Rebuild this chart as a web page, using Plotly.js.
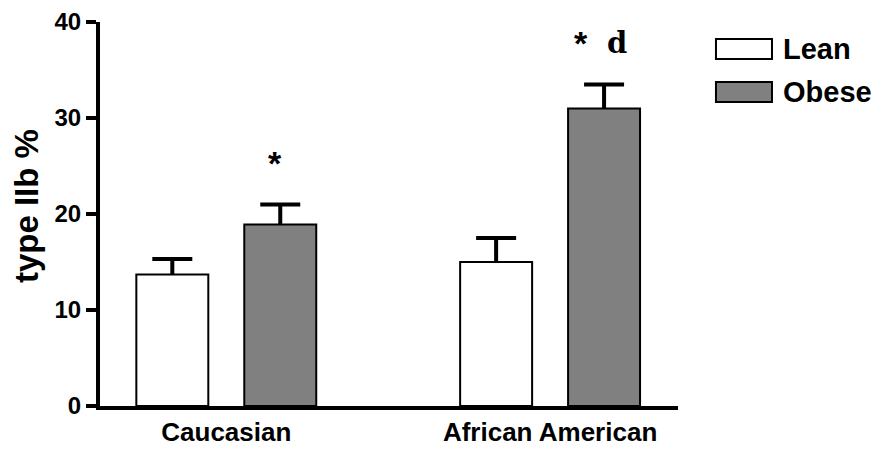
<!DOCTYPE html>
<html>
<head>
<meta charset="utf-8">
<script src="https://cdn.plot.ly/plotly-3.0.1.min.js"></script>
<style>html,body{margin:0;padding:0;background:#fff;}#chart{width:881px;height:451px;}</style>
</head>
<body>
<div id="chart"></div>
<script>
// Data
const categories = ["Caucasian", "African American"];
const leanValues = [13.7, 15.0];
const leanErrors = [1.6, 2.5];
const obeseValues = [18.9, 31.0];
const obeseErrors = [2.1, 2.5];
const seriesNames = ["Lean", "Obese"];
const yTicks = [0, 10, 20, 30, 40];
const sigMarks = ["*", "*"];
const extraMark = ["", "d"];

const FONT = "Liberation Sans, Arial, sans-serif";
const fills = ["#ffffff", "#808080"];
const valuesBySeries = [leanValues, obeseValues];
const errorsBySeries = [leanErrors, obeseErrors];

const traces = [];
// Error-bar carriers drawn underneath (transparent bars); their stems run down to 0
// so the lower cap is hidden under the x axis line and the stem inside the bar is covered.
seriesNames.forEach((n, s) => {
  traces.push({
    type: "bar", name: n + " err", x: categories, y: valuesBySeries[s],
    offsetgroup: n, marker: {color: "rgba(0,0,0,0)", line: {width: 0}},
    error_y: {type: "data", symmetric: false, array: errorsBySeries[s],
              arrayminus: valuesBySeries[s], color: "#000", thickness: 4, width: 20},
    showlegend: false, hoverinfo: "none"
  });
});
// Visible bars on top
seriesNames.forEach((n, s) => {
  traces.push({
    type: "bar", name: n, x: categories, y: valuesBySeries[s],
    offsetgroup: n, marker: {color: fills[s], line: {color: "#000", width: 2}},
    showlegend: false, hoverinfo: "none"
  });
});

const annotations = [];
const starShift = [49, 31];
categories.forEach((c, i) => {
  const top = obeseValues[i] + obeseErrors[i];
  annotations.push({
    x: c, y: top + 4.3, xref: "x", yref: "y",
    text: sigMarks[i], showarrow: false, xshift: starShift[i],
    font: {family: FONT, size: 34, weight: "bold", color: "#000"},
    xanchor: "center", yanchor: "middle"
  });
  if (extraMark[i]) {
    annotations.push({
      x: c, y: top + 4.3, xref: "x", yref: "y",
      text: extraMark[i], showarrow: false, xshift: 67,
      font: {family: "DejaVu Serif, Liberation Serif, serif", size: 29, weight: "bold", color: "#000"},
      xanchor: "center", yanchor: "middle"
    });
  }
});

// y axis title
annotations.push({
  xref: "paper", yref: "paper", x: -0.126, y: 0.521, textangle: -90,
  text: "type IIb %", showarrow: false, xanchor: "center", yanchor: "middle",
  font: {family: FONT, size: 33, weight: "bold", color: "#000"}
});

// custom legend
const legendY = [[0.9036, 0.9557], [0.7917, 0.8437]];
const shapes = [];
seriesNames.forEach((n, i) => {
  shapes.push({
    type: "rect", xref: "paper", yref: "paper",
    x0: 1.0657, x1: 1.1626, y0: legendY[i][0], y1: legendY[i][1],
    fillcolor: fills[i], line: {color: "#000", width: 2}
  });
  annotations.push({
    xref: "paper", yref: "paper", x: 1.178, y: (legendY[i][0] + legendY[i][1]) / 2,
    text: n, showarrow: false, xanchor: "left", yanchor: "middle",
    font: {family: FONT, size: 29, weight: "bold", color: "#000"}
  });
});

const layout = {
  width: 881, height: 451,
  margin: {l: 100, r: 203, t: 22, b: 45, pad: 0},
  paper_bgcolor: "#fff", plot_bgcolor: "#fff",
  barmode: "group", bargap: 0.3333, bargroupgap: 0.3333,
  showlegend: false,
  xaxis: {
    type: "category", range: [-0.39, 1.395],
    showline: true, linecolor: "#000", linewidth: 4,
    ticks: "", showgrid: false, zeroline: false,
    tickfont: {family: FONT, size: 26, weight: "bold", color: "#000"},
    automargin: false
  },
  yaxis: {
    range: [0, 40], tickvals: yTicks, ticktext: yTicks.map(String),
    showline: true, linecolor: "#000", linewidth: 4,
    ticks: "outside", ticklen: 10, tickwidth: 4, tickcolor: "#000",
    showgrid: false, zeroline: false,
    tickfont: {family: FONT, size: 24, weight: "bold", color: "#000"},
    automargin: false
  },
  shapes: shapes,
  annotations: annotations
};

Plotly.newPlot("chart", traces, layout, {staticPlot: true, displayModeBar: false});
</script>
</body>
</html>
